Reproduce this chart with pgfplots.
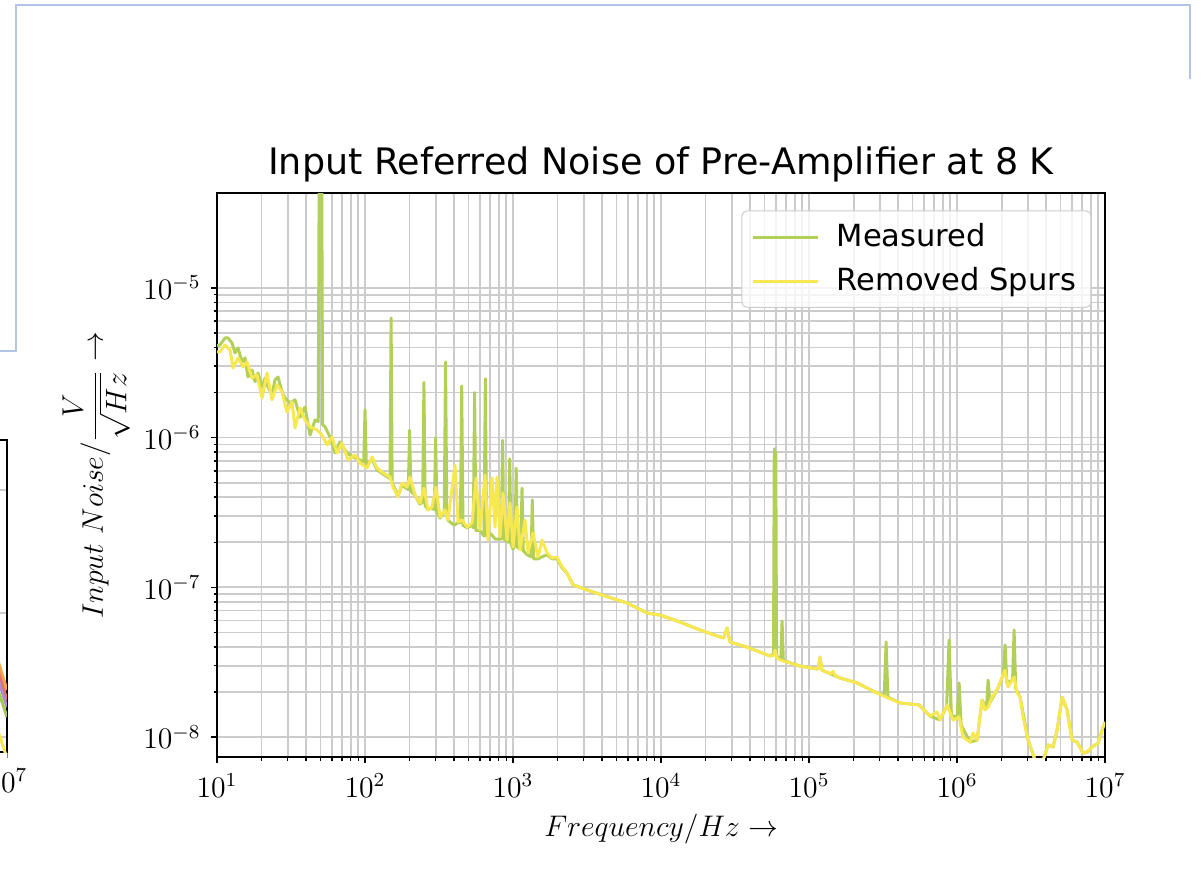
\documentclass[12pt,border=0pt]{standalone}
\usepackage{pgfplots}
\pgfplotsset{compat=1.18}
\usepackage{fontspec}
\newfontfamily\dejavu{DejaVu Sans}
\definecolor{mgreen}{RGB}{178,208,88}
\definecolor{myellow}{RGB}{247,232,82}
\definecolor{frameblue}{RGB}{178,196,232}
\definecolor{gridgray}{RGB}{204,204,204}
\definecolor{porange}{RGB}{240,165,70}
\definecolor{pred}{RGB}{232,110,100}
\definecolor{ppurple}{RGB}{175,140,205}
\definecolor{pgreen}{RGB}{165,200,85}

\begin{document}
\begin{tikzpicture}
% decorative frame of the page behind the chart
\draw[frameblue, line width=0.9pt] (0pt,210.5pt) -- (6.45pt,210.5pt) -- (6.45pt,350.0pt) -- (479.8pt,350.0pt) -- (479.8pt,320pt);

% partial neighbouring chart (cropped at the left edge)
\begin{axis}[
  at={(2.82pt,48.79pt)}, anchor=south east,
  scale only axis, width=300pt, height=125.8pt,
  xmin=0, xmax=1, ymin=0, ymax=1,
  xtick={1}, xticklabels={$10^{7}$},
  ytick={0.048,0.446,0.84}, yticklabels={},
  ymajorgrids, major grid style={draw=gridgray, line width=0.7pt},
  tick pos=left, tick align=outside, major tick length=2.4pt,
  axis line style={line width=0.8pt},
]
\addplot[porange, line width=1.2pt] coordinates {(0.97,0.43) (1,0.199)};
\addplot[pred, line width=1.2pt] coordinates {(0.97,0.40) (1,0.167)};
\addplot[ppurple, line width=1.2pt] coordinates {(0.97,0.37) (1,0.144)};
\addplot[pgreen, line width=1.2pt] coordinates {(0.97,0.33) (1,0.112)};
\addplot[myellow, line width=1.2pt] coordinates {(0.97,0.20) (1,-0.02)};
\end{axis}

\begin{axis}[
  at={(87.49pt,46.77pt)}, anchor=south west,
  scale only axis, width=358.04pt, height=227.40pt,
  xmode=log, ymode=log,
  xmin=10, xmax=1e7, ymin=7.35e-9, ymax=4.3e-5,
  xtick={10,100,1000,10000,100000,1000000,10000000},
  ytick={1e-8,1e-7,1e-6,1e-5},
  grid=both,
  major grid style={draw=gridgray, line width=0.7pt},
  minor grid style={draw=gridgray, line width=0.7pt},
  tick pos=left, tick align=outside,
  major tick length=2.4pt, minor tick length=1.4pt,
  every tick/.style={black, line width=0.6pt},
  axis line style={line width=0.8pt},
  title={Input Referred Noise of Pre-Amplifier at 8 K},
  title style={font=\dejavu\fontsize{14.7}{17}\selectfont, at={(0.5,1)}, anchor=base, yshift=1.3pt, inner sep=0pt},
  xlabel={$Frequency/Hz \rightarrow$},
  xlabel style={at={(axis description cs:0.5,0)}, anchor=base, yshift=-31.9pt, inner sep=0pt},
  ylabel={$Input\ Noise/\displaystyle\frac{V}{\sqrt{Hz}} \rightarrow$},
  ylabel style={at={(axis description cs:-0.1284,0.5)}, anchor=base, inner sep=0pt},
  legend style={at={(1,1)}, anchor=north east, xshift=-5.5pt, yshift=-7pt,
    draw=black!20, rounded corners=2pt, fill=white, fill opacity=0.8, text opacity=1,
    font=\dejavu\fontsize{12.3}{14}\selectfont, inner xsep=4pt, inner ysep=3pt, row sep=2.6pt,
    nodes={inner sep=2pt},
    /tikz/every odd column/.append style={column sep=5pt}},
  legend cell align=left,
  legend image code/.code={\draw[#1] (0pt,0pt) -- (26pt,0pt);},
]
\addplot[mgreen, line width=1.2pt, line join=round] table[x=f, y=v] {
f v
10.0 4.10e-6
10.48 4.16e-6
11.33 4.63e-6
11.87 4.63e-6
12.63 4.29e-6
13.23 3.68e-6
13.87 3.97e-6
14.75 3.20e-6
15.46 3.41e-6
16.20 2.54e-6
17.24 2.83e-6
18.07 2.36e-6
18.92 2.70e-6
20.14 2.18e-6
21.10 2.50e-6
22.12 2.18e-6
23.52 1.93e-6
24.66 2.43e-6
25.84 2.54e-6
27.49 2.02e-6
28.81 1.84e-6
31.13 1.70e-6
33.65 1.79e-6
36.37 1.37e-6
39.31 1.60e-6
42.50 1.04e-6
45.94 1.31e-6
48.3 1.28e-6
49.1 1e-4
50.9 1e-4
51.7 1.22e-6
53.68 1.18e-6
58.02 1.01e-6
62.70 7.90e-7
67.78 9.36e-7
75.57 7.90e-7
82.97 7.43e-7
92.52 7.09e-7
98.0 6.9e-7
100 1.53e-6
102 6.6e-7
111.5 7.2e-7
120.5 6.1e-7
132.3 5.7e-7
145 5.4e-7
147.5 5.3e-7
150 6.3e-6
152.5 5.0e-7
167 4.1e-7
178 4.8e-7
196 4.5e-7
200 1.12e-6
204 4.4e-7
218 4.1e-7
235 3.6e-7
245 3.7e-7
250 2.34e-6
255 3.5e-7
267 3.3e-7
284 3.4e-7
294 3.3e-7
300 1.0e-6
306 3.2e-7
321 2.9e-7
343 3.2e-7
350 3.2e-6
357 3.0e-7
364 2.8e-7
400 2.6e-7
425 2.7e-7
441 2.7e-7
450 2.21e-6
459 2.6e-7
489 2.5e-7
528 2.6e-7
539 2.5e-7
550 2.0e-6
561 2.4e-7
598 2.4e-7
637 2.2e-7
650 2.47e-6
663 2.2e-7
700 2.3e-7
760 2.1e-7
833 2.1e-7
850 9.6e-7
867 2.1e-7
931 2.0e-7
950 7.2e-7
969 1.95e-7
1000 1.8e-7
1029 1.9e-7
1050 6.25e-7
1071 1.85e-7
1127 1.8e-7
1150 4.6e-7
1173 1.75e-7
1250 1.65e-7
1323 1.6e-7
1350 3.84e-7
1377 1.55e-7
1475 1.55e-7
1570 1.6e-7
1697 1.65e-7
1834 1.55e-7
1983 1.55e-7
2144 1.35e-7
2317 1.24e-7
2543 1.04e-7
3162 9.60e-8
4385 8.62e-8
5893 7.86e-8
8042 6.74e-8
9845 6.53e-8
13440 5.87e-8
18340 5.19e-8
25030 4.66e-8
26500 4.6e-8
27920 5.35e-8
29260 4.31e-8
38120 3.99e-8
54510 3.48e-8
57500 3.6e-8
58200 8.4e-7
58900 4.0e-7
59600 8.0e-7
60300 3.5e-8
64500 3.3e-8
65700 5.96e-8
67000 3.25e-8
86960 2.98e-8
115000 2.85e-8
118700 3.42e-8
122000 2.8e-8
162000 2.48e-8
211000 2.30e-8
279200 2.00e-8
322000 1.9e-8
331400 4.31e-8
341000 1.85e-8
412000 1.69e-8
553600 1.64e-8
657000 1.38e-8
767600 1.30e-8
850000 1.6e-8
883000 4.45e-8
915000 1.4e-8
1000000 1.35e-8
1032000 2.30e-8
1065000 1.2e-8
1224000 9.26e-9
1365000 9.55e-9
1475000 1.77e-8
1580000 1.55e-8
1620000 2.40e-8
1670000 1.7e-8
1892000 2.13e-8
2050000 2.6e-8
2110000 4.12e-8
2170000 2.3e-8
2370000 2.4e-8
2427000 5.19e-8
2490000 2.1e-8
2665000 1.85e-8
3018000 9.55e-9
3365000 7.0e-9
3812000 7.0e-9
4120000 8.84e-9
4454000 8.58e-9
4740000 1.114e-8
5123000 1.85e-8
5536000 1.52e-8
5984000 9.55e-9
6469000 9.26e-9
7101000 7.82e-9
7557000 7.94e-9
8171000 8.58e-9
8968000 9.12e-9
9694000 1.166e-8
10000000 1.26e-8
};
\addlegendentry{Measured}
\addplot[myellow, line width=1.2pt, line join=round] table[x=f, y=v] {
f v
10.0 3.74e-6
10.48 3.74e-6
11.33 4.16e-6
12.24 3.85e-6
12.83 2.92e-6
13.87 3.41e-6
14.99 2.97e-6
15.95 3.20e-6
17.24 2.50e-6
18.64 2.62e-6
20.14 1.84e-6
21.77 2.70e-6
23.52 1.79e-6
25.43 2.25e-6
27.49 2.02e-6
29.72 1.48e-6
32.12 1.73e-6
33.65 1.16e-6
36.37 1.58e-6
39.31 1.31e-6
42.50 1.18e-6
47.39 1.125e-6
51.22 1.04e-6
55.38 8.93e-7
59.84 1.01e-6
64.69 7.90e-7
69.92 9.21e-7
76.75 7.09e-7
85.58 7.66e-7
92.52 6.77e-7
103.2 6.27e-7
111.5 7.43e-7
120.5 6.27e-7
132.3 5.81e-7
147.5 5.46e-7
154.6 4.68e-7
167.1 4.01e-7
177.8 4.98e-7
192.2 4.68e-7
201.4 5.46e-7
217.7 4.14e-7
235.3 3.66e-7
250.3 4.61e-7
266.6 3.29e-7
283.6 3.44e-7
301.7 4.68e-7
321.2 2.95e-7
347.2 3.29e-7
363.8 2.82e-7
405.6 6.57e-7
425.1 2.73e-7
452.3 2.82e-7
488.9 2.53e-7
528.4 2.69e-7
562.3 5.37e-7
598.4 2.42e-7
646.9 5.63e-7
677.9 2.07e-7
721.4 5.37e-7
755.7 2.53e-7
779.6 5.46e-7
817.1 2.17e-7
855.7 4.27e-7
910.9 2.07e-7
954.3 3.66e-7
1000 1.86e-7
1064 3.44e-7
1115 1.78e-7
1205 2.82e-7
1263 1.70e-7
1365 2.31e-7
1475 1.59e-7
1570 2.07e-7
1697 1.70e-7
1834 1.57e-7
1983 1.59e-7
2144 1.37e-7
2317 1.25e-7
2543 1.04e-7
3162 9.60e-8
4385 8.62e-8
5893 7.86e-8
8042 6.74e-8
9845 6.53e-8
13440 5.87e-8
18340 5.19e-8
25030 4.66e-8
26500 4.6e-8
27920 5.35e-8
29260 4.31e-8
38120 3.99e-8
54510 3.48e-8
57500 3.5e-8
58930 3.81e-8
60500 3.4e-8
63700 3.27e-8
86960 2.98e-8
115000 2.85e-8
118700 3.42e-8
122000 2.8e-8
140000 2.65e-8
145300 2.75e-8
150000 2.58e-8
162000 2.48e-8
211000 2.30e-8
279200 2.00e-8
331400 1.85e-8
412000 1.69e-8
553600 1.64e-8
657000 1.38e-8
732500 1.47e-8
767600 1.30e-8
855700 1.64e-8
939700 1.30e-8
1032000 1.36e-8
1098000 1.00e-8
1224000 9.26e-9
1283000 1.064e-8
1365000 9.55e-9
1475000 1.77e-8
1546000 1.52e-8
1620000 1.59e-8
1724000 1.85e-8
1892000 2.13e-8
2014000 2.52e-8
2110000 2.80e-8
2211000 2.16e-8
2427000 2.52e-8
2543000 1.97e-8
2665000 1.85e-8
2792000 1.36e-8
3018000 9.55e-9
3365000 7.0e-9
3812000 7.0e-9
4120000 8.84e-9
4454000 8.58e-9
4740000 1.114e-8
5123000 1.85e-8
5536000 1.52e-8
5984000 9.55e-9
6469000 9.26e-9
7101000 7.82e-9
7557000 7.94e-9
8171000 8.58e-9
8968000 9.12e-9
9694000 1.166e-8
10000000 1.26e-8
};
\addlegendentry{Removed Spurs}
\end{axis}
\pgfresetboundingbox
\path[use as bounding box] (0pt,0pt) rectangle (485.4pt,352.0pt);
\end{tikzpicture}
\end{document}
